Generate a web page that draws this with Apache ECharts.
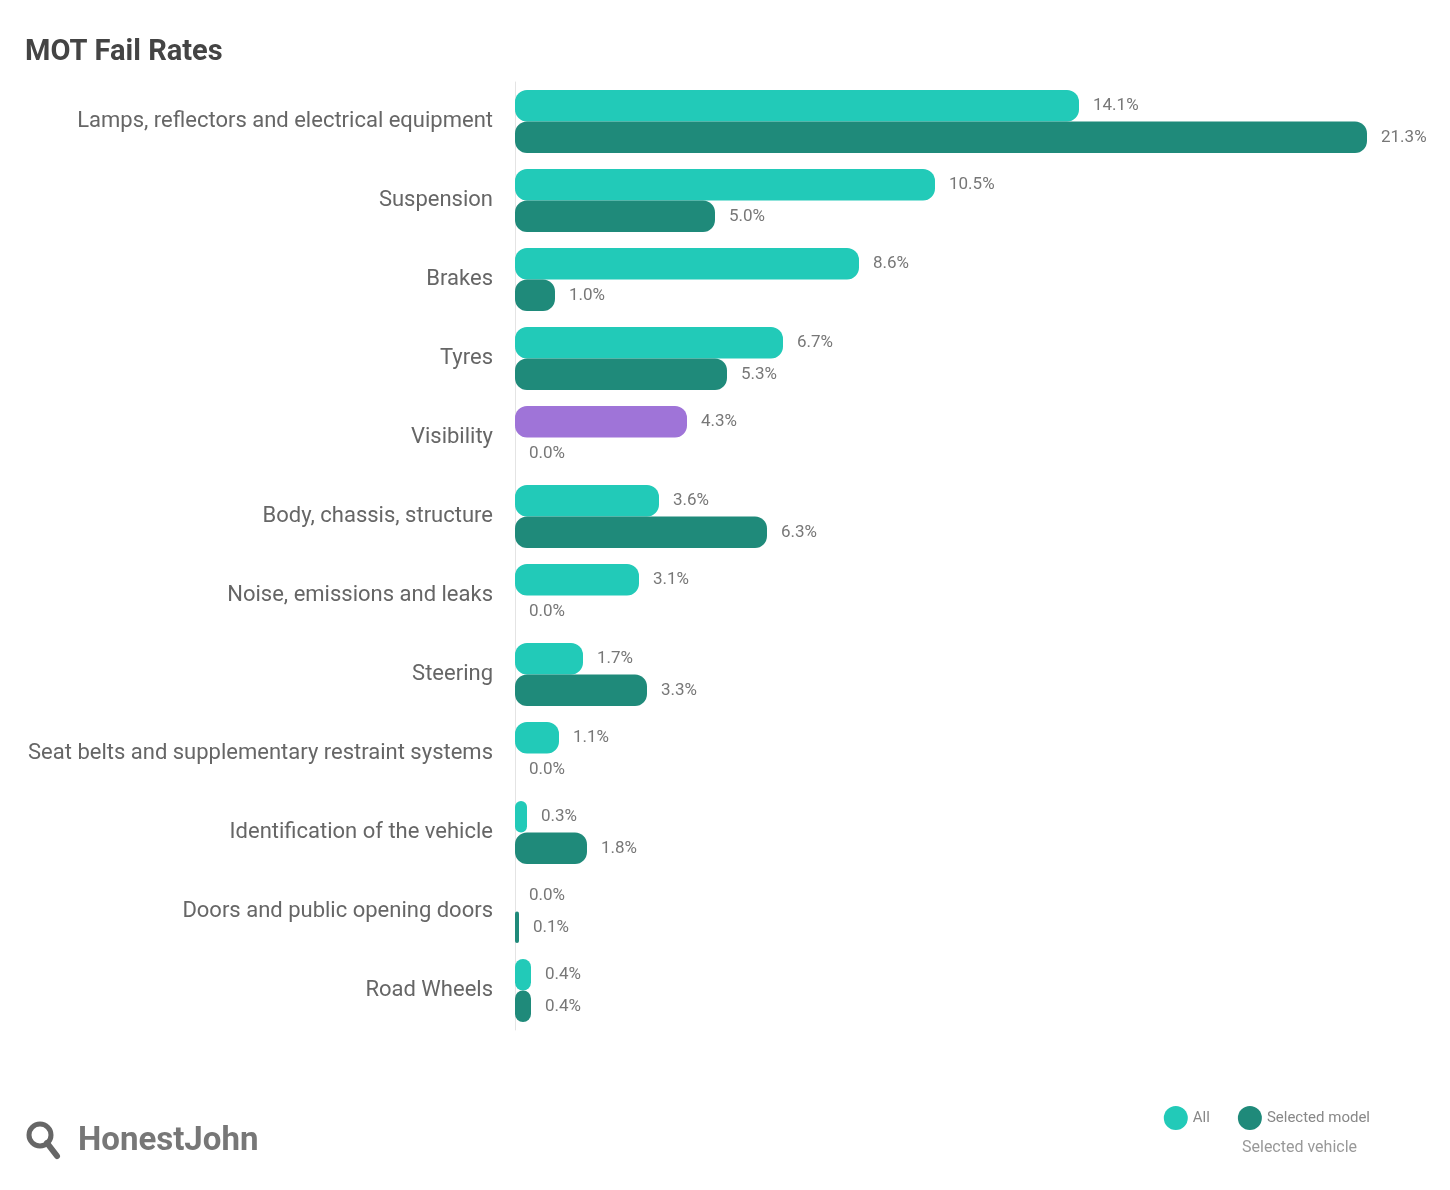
<!DOCTYPE html>
<html>
<head>
<meta charset="utf-8">
<script src="https://cdn.jsdelivr.net/npm/echarts@6/dist/echarts.min.js"></script>
<style>
html,body{margin:0;padding:0;background:#fff;}
#chart{width:1450px;height:1190px;}
</style>
</head>
<body>
<div id="chart"></div>
<script>
const categories = [
  "Lamps, reflectors and electrical equipment",
  "Suspension",
  "Brakes",
  "Tyres",
  "Visibility",
  "Body, chassis, structure",
  "Noise, emissions and leaks",
  "Steering",
  "Seat belts and supplementary restraint systems",
  "Identification of the vehicle",
  "Doors and public opening doors",
  "Road Wheels"
];
const allValues   = [14.1, 10.5, 8.6, 6.7, 4.3, 3.6, 3.1, 1.7, 1.1, 0.3, 0.0, 0.4];
const modelValues = [21.3, 5.0, 1.0, 5.3, 0.0, 6.3, 0.0, 3.3, 0.0, 1.8, 0.1, 0.4];
const highlightCategory = "Visibility";
const seriesNames = ["All", "Selected model"];

const colLight = "#22cab8";
const colDark = "#1f8a7a";
const colHighlight = "#9f74d8";

const chart = echarts.init(document.getElementById('chart'));
const lightData = allValues.map((v, i) => categories[i] === highlightCategory
  ? { value: v, itemStyle: { color: colHighlight } } : v);

const labelCommon = {
  show: true, position: 'right', distance: 14,
  color: '#777', fontSize: 17, fontFamily: 'Roboto, sans-serif',
  formatter: p => p.value.toFixed(1) + '%'
};

chart.setOption({
  animation: false,
  title: {
    text: 'MOT Fail Rates', left: 20, top: 33,
    textStyle: { fontSize: 29, fontWeight: 'bold', color: '#444', fontFamily: 'Roboto, sans-serif' }
  },
  legend: {
    right: 75, top: 1101, itemGap: 28, icon: 'circle', itemWidth: 24, itemHeight: 24,
    textStyle: { color: '#888', fontSize: 15, fontFamily: 'Roboto, sans-serif' },
    data: seriesNames
  },
  graphic: [
    { type: 'text', left: 1242, top: 1140, style: { text: 'Selected vehicle', fill: '#999', font: '16px Roboto, sans-serif' } },
    { type: 'circle', shape: { cx: 40, cy: 1135, r: 11 }, style: { fill: 'none', stroke: '#666', lineWidth: 5 } },
    { type: 'line', shape: { x1: 47, y1: 1143, x2: 57, y2: 1156 }, style: { stroke: '#666', lineWidth: 6, lineCap: 'round' } },
    { type: 'text', left: 78, top: 1125, style: { text: 'HonestJohn', fill: '#777', font: 'bold 33px Roboto, sans-serif' } }
  ],
  grid: { left: 515, right: 35, top: 82, bottom: 160 },
  xAxis: { type: 'value', min: 0, max: 22.5, show: false },
  yAxis: {
    type: 'category', inverse: true, data: categories,
    axisLine: { show: true, lineStyle: { color: '#e4e4e4' } },
    axisTick: { show: false },
    axisLabel: { color: '#666', fontSize: 22, margin: 22, fontFamily: 'Roboto, sans-serif' }
  },
  series: [
    {
      name: seriesNames[0], type: 'bar', data: lightData, barGap: '0%', barCategoryGap: '20%',
      itemStyle: { color: colLight, borderRadius: 12 },
      label: labelCommon
    },
    {
      name: seriesNames[1], type: 'bar', data: modelValues,
      itemStyle: { color: colDark, borderRadius: 12 },
      label: labelCommon
    }
  ]
});
</script>
</body>
</html>
